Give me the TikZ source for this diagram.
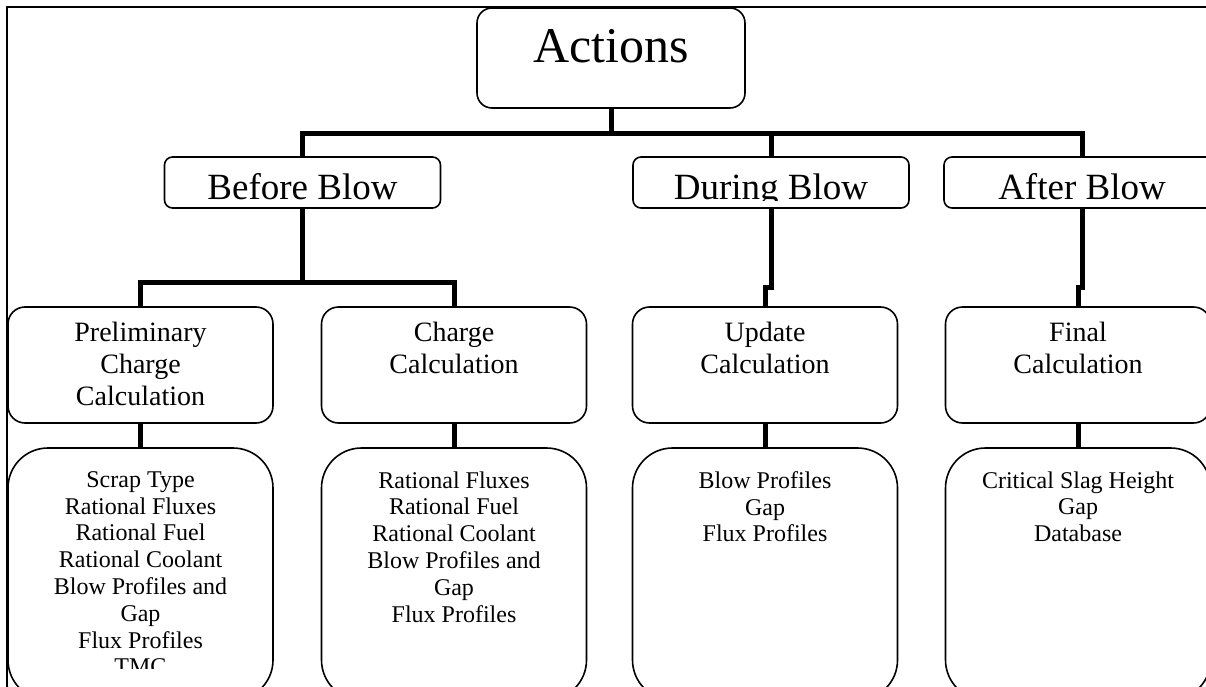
\documentclass[tikz,border=0pt]{standalone}
\usepackage{fontspec}
\setmainfont{Liberation Serif}
\usetikzlibrary{positioning}
\tikzset{
	box/.style={draw, line width=1.6pt, inner sep=0pt},
	topbox/.style={box, rounded corners=15pt, minimum width=268pt, minimum height=100pt},
	phasebox/.style={box, rounded corners=8pt, minimum width=276pt, minimum height=51pt},
	calcbox/.style={box, rounded corners=17pt, minimum width=265pt, minimum height=116pt},
	listbox/.style={box, rounded corners=40pt, minimum width=265pt, minimum height=252pt},
	link/.style={line width=5pt},
	txt/.style={anchor=north, inner sep=0pt, align=center}
}
\def\bigtxt{\fontsize{50}{58}\selectfont}
\def\phasetxt{\fontsize{37}{42}\selectfont}
\def\calctxt{\fontsize{28}{32}\selectfont}
\def\listtxt{\fontsize{24}{26.8}\selectfont}

\begin{document}
\begin{tikzpicture}[x=1pt, y=-1pt]
			%%%%% START %%%%%
			\clip (0,0) rectangle (1206,687);
			
			\draw[line width=1.5pt] (7,700) -- (7,7) -- (1220,7);
			
			\node[topbox] (actions) at (611,58) {};
			
			\node[phasebox] (before) at (302.5,182.5) {};
			\node[phasebox] (during) at (771,182.5) {};
			\node[phasebox] (after) at (1082,182.5) {};
			
			\node[calcbox] (prelim) at (140.5,365) {};
			\node[calcbox] (charge) at (454,365) {};
			\node[calcbox] (update) at (765,365) {};
			\node[calcbox] (final) at (1078,365) {};
			
			\node[listbox] (prelimlist) at (140.5,574) {};
			\node[listbox] (chargelist) at (454,574) {};
			\node[listbox] (updatelist) at (765,574) {};
			\node[listbox] (finallist) at (1078,574) {};
			
			\draw[link] (actions.south) -- ++(0,25) -| (before.north);
			\draw[link] (actions.south) ++(0,25) -| (during.north);
			\draw[link] (actions.south) ++(0,25) -| (after.north);
			
			\draw[link] (before.south) -- ++(0,74) -| (prelim.north);
			\draw[link] (before.south) ++(0,74) -| (charge.north);
			\draw[link] (during.south) -- ++(0,79) -| (update.north);
			\draw[link] (after.south) -- ++(0,79) -| (final.north);
			
			\draw[link] (prelim.south) -- (prelimlist.north);
			\draw[link] (charge.south) -- (chargelist.north);
			\draw[link] (update.south) -- (updatelist.north);
			\draw[link] (final.south) -- (finallist.north);
			
			\node[txt, font=\bigtxt] (actions-t) at ([yshift=-22pt]actions.north) {Actions};
			
			\begin{scope}
			\clip (0,0) rectangle (1206,200);
			\node[txt, font=\phasetxt] (before-t) at ([yshift=-17pt]before.north) {Before Blow};
			\node[txt, font=\phasetxt] (during-t) at ([yshift=-17pt]during.north) {During Blow};
			\node[txt, font=\phasetxt] (after-t) at ([yshift=-17pt]after.north) {After Blow};
			\end{scope}
			
			\node[txt, font=\calctxt] (prelim-t) at ([yshift=-16pt]prelim.north) {Preliminary\\Charge\\Calculation};
			\node[txt, font=\calctxt] (charge-t) at ([yshift=-16pt]charge.north) {Charge\\Calculation};
			\node[txt, font=\calctxt] (update-t) at ([yshift=-16pt]update.north) {Update\\Calculation};
			\node[txt, font=\calctxt] (final-t) at ([yshift=-16pt]final.north) {Final\\Calculation};
			
			\begin{scope}
			\clip (0,0) rectangle (1206,668);
			\node[txt, font=\listtxt] (prelimlist-t) at ([yshift=-24pt]prelimlist.north) {Scrap Type\\Rational Fluxes\\Rational Fuel\\Rational Coolant\\Blow Profiles and\\Gap\\Flux Profiles\\TMC};
			\end{scope}
			\node[txt, font=\listtxt] (chargelist-t) at ([yshift=-24pt]chargelist.north) {Rational Fluxes\\Rational Fuel\\Rational Coolant\\Blow Profiles and\\Gap\\Flux Profiles};
			\node[txt, font=\listtxt] (updatelist-t) at ([yshift=-24pt]updatelist.north) {Blow Profiles\\Gap\\Flux Profiles};
			\node[txt, font=\listtxt] (finallist-t) at ([yshift=-24pt]finallist.north) {Critical Slag Height\\Gap\\Database};
			%%%%% END %%%%%
\end{tikzpicture}
\end{document}
